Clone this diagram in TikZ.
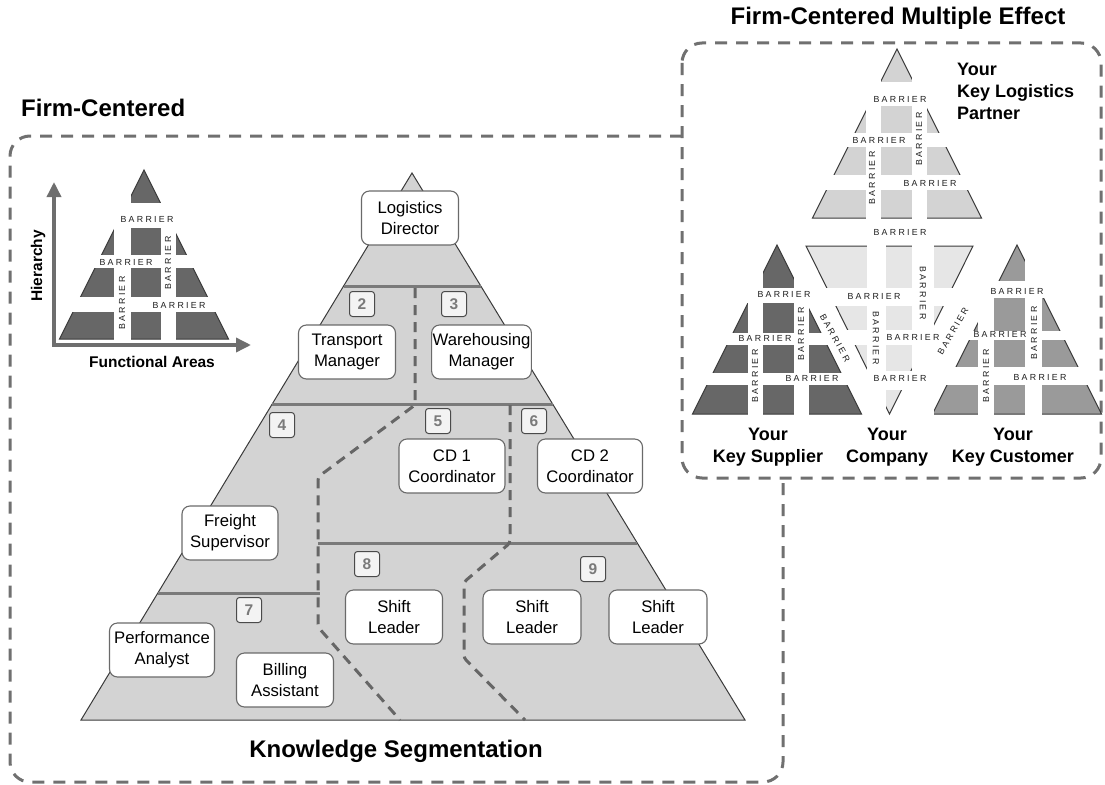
\documentclass[tikz,border=0pt]{standalone}
\usepackage{fontspec}
\setmainfont{Liberation Sans}
\newfontfamily\barfont{Liberation Sans}[LetterSpace=26]
\usetikzlibrary{arrows.meta}
\definecolor{mainfill}{HTML}{D3D3D3}
\definecolor{edgecol}{HTML}{3A3A3A}
\definecolor{boxedge}{HTML}{6A6A6A}
\definecolor{badgeedge}{HTML}{4A4A4A}
\definecolor{badgefill}{HTML}{F3F3F3}
\definecolor{badgetext}{HTML}{7A7A7A}
\definecolor{bartext}{HTML}{1E1E1E}
\definecolor{divcol}{HTML}{7A7A7A}
\definecolor{segcol}{HTML}{666666}
\definecolor{framecol}{HTML}{707070}
\definecolor{axiscol}{HTML}{6E6E6E}
\definecolor{darkpyr}{HTML}{676767}
\definecolor{lightpyr}{HTML}{D3D3D3}
\definecolor{palepyr}{HTML}{E6E6E6}
\definecolor{midpyr}{HTML}{9A9A9A}
\newcommand{\pyrtri}[3]{\filldraw[fill=#3, draw=edgecol, line width=1pt] (#1,#2) -- ({#1-84.5},{#2+169}) -- ({#1+84.5},{#2+169}) -- cycle;}
\newcommand{\hstr}[4]{\fill[white] ({#1-0.5*#4-3},{#2+#3}) rectangle ({#1+0.5*#4+3},{#2+#4});}
\newcommand{\vstr}[4]{\fill[white] ({#1+#3},{#2-2}) rectangle ({#1+#4},{#2+172});}
\begin{document}
\begin{tikzpicture}[x=1pt,y=-1pt,
  role/.style={draw=boxedge, fill=white, rounded corners=8pt, line width=1.1pt, minimum width=97pt, minimum height=54pt, align=center, inner sep=1pt, font=\fontsize{16.7}{20.8}\selectfont},
  badge/.style={draw=badgeedge, fill=badgefill, rounded corners=3pt, line width=1pt, minimum width=25pt, minimum height=25pt, inner sep=0pt, text=badgetext, font=\bfseries\fontsize{15.5}{15.5}\selectfont},
  bar/.style={font=\barfont\fontsize{8.8}{9}\selectfont, inner sep=0pt, text=bartext},
  divider/.style={draw=divcol, line width=3pt},
  seg/.style={draw=segcol, line width=3pt, dash pattern=on 10pt off 7pt, rounded corners=3pt},
  frame/.style={draw=framecol, line width=3pt, dash pattern=on 12pt off 9pt, rounded corners=20pt},
  title/.style={font=\bfseries\fontsize{24}{28}\selectfont, inner sep=0pt},
  label/.style={font=\bfseries\fontsize{18}{22}\selectfont, inner sep=0pt, align=center},
  axis/.style={draw=axiscol, line width=3.5pt, -{Triangle[length=15pt,width=14pt]}},
]
\useasboundingbox (0,0) rectangle (1105,784);
% frames
\draw[frame] (682,43) rectangle (1101,478);
\draw[frame] (682,136) -- (10,136) -- (10,782) -- (783,782) -- (783,478);
% titles
\node[title, anchor=base west] (tFC) at (21,116) {Firm-Centered};
\node[title, anchor=base] (tME) at (898,25) {Firm-Centered Multiple Effect};
\node[title, anchor=base] (tKS) at (396,757) {Knowledge Segmentation};
% main pyramid
\filldraw[fill=mainfill, draw=edgecol, line width=1pt] (412,173) -- (81,720) -- (745,720) -- cycle;
\draw[divider] (343.6,286) -- (480.8,286);
\draw[divider] (272.2,404) -- (552.6,404);
\draw[divider] (318,543) -- (637.2,543);
\draw[divider] (157.8,593) -- (320,593);
\draw[seg] (415,288) -- (415,405) -- (318,477) -- (318,627) -- (400,720);
\draw[seg] (510,405) -- (510,543) -- (464,582) -- (464,658) -- (525,720);
% role boxes
\node[role] (ld) at (410,218) {Logistics\\Director};
\node[role] (tm) at (347,352) {Transport\\Manager};
\node[role] (wm) at (481.5,352) {Warehousing\\Manager};
\node[role, minimum width=106pt] (cd1) at (452,466) {CD 1\\Coordinator};
\node[role, minimum width=105pt] (cd2) at (590,466) {CD 2\\Coordinator};
\node[role, minimum width=96pt] (fs) at (230,533) {Freight\\Supervisor};
\node[role, minimum width=105pt] (pa) at (162,650) {Performance\\Analyst};
\node[role] (ba) at (285,680) {Billing\\Assistant};
\node[role] (sl1) at (394,617) {Shift\\Leader};
\node[role, minimum width=98pt] (sl2) at (532,617) {Shift\\Leader};
\node[role, minimum width=98pt] (sl3) at (658,617) {Shift\\Leader};
% badges
\node[badge] (n2) at (362,304) {2};
\node[badge] (n3) at (454,304) {3};
\node[badge] (n4) at (282,425) {4};
\node[badge] (n5) at (438,421) {5};
\node[badge] (n6) at (534,421) {6};
\node[badge] (n7) at (249,610) {7};
\node[badge] (n8) at (367,564) {8};
\node[badge] (n9) at (593,569) {9};
% small legend pyramid
\pyrtri{144}{170}{darkpyr}
\hstr{144}{170}{33}{58}
\hstr{144}{170}{85}{98}
\hstr{144}{170}{127}{142}
\vstr{144}{170}{-30}{-13}
\vstr{144}{170}{17}{32}
\coordinate (org) at (54,345);
\coordinate (ytip) at (54,182);
\coordinate (xtip) at (251,345);
\draw[axis] (54,346.75) -- (ytip);
\draw[axis] (52.25,345) -- (xtip);
\node[font=\bfseries\fontsize{15.5}{18}\selectfont, rotate=90, inner sep=0pt] (hier) at (38,266) {Hierarchy};
\node[font=\bfseries\fontsize{15.5}{18}\selectfont, anchor=base, inner sep=0pt] (func) at (152,367) {Functional Areas};
\node[bar] (a1) at (147,219) {BARRIER};
\node[bar] (a2) at (126,262) {BARRIER};
\node[bar] (a3) at (179,305) {BARRIER};
\node[bar, rotate=90] (a4) at (122,303) {BARRIER};
\node[bar, rotate=90] (a5) at (168,263) {BARRIER};
% partner pyramid
\pyrtri{897}{49}{lightpyr}
\hstr{897}{49}{33}{57}
\hstr{897}{49}{84}{98}
\hstr{897}{49}{126}{141}
\vstr{897}{49}{-31}{-16}
\vstr{897}{49}{15}{30}
% supplier pyramid
\pyrtri{777}{245}{darkpyr}
\hstr{777}{245}{43}{58}
\hstr{777}{245}{88}{100}
\hstr{777}{245}{128}{140}
\vstr{777}{245}{-29}{-14}
\vstr{777}{245}{17}{32}
% customer pyramid
\pyrtri{1017}{245}{midpyr}
\hstr{1017}{245}{36}{53}
\hstr{1017}{245}{86}{95}
\hstr{1017}{245}{122}{140}
\vstr{1017}{245}{-39}{-23}
\vstr{1017}{245}{8}{25}
% company (inverted) pyramid
\filldraw[fill=palepyr, draw=edgecol, line width=1pt] (806,246) -- (973,246) -- (889.5,414) -- cycle;
\fill[white] (824,288) rectangle (955,306);
\fill[white] (845,330) rectangle (934,345);
\fill[white] (865,371) rectangle (914,390);
\fill[white] (867,244) rectangle (886,416);
\fill[white] (912,244) rectangle (934,416);
% barrier labels right panel
\node[bar] (p1) at (900,99) {BARRIER};
\node[bar] (p2) at (879,140) {BARRIER};
\node[bar] (p3) at (930,183) {BARRIER};
\node[bar, rotate=90] (p4) at (872,178) {BARRIER};
\node[bar, rotate=90] (p5) at (919,139) {BARRIER};
\node[bar] (p6) at (900,232) {BARRIER};
\node[bar] (s1) at (784,294) {BARRIER};
\node[bar] (s2) at (765,338) {BARRIER};
\node[bar] (s3) at (812,378) {BARRIER};
\node[bar, rotate=90] (s4) at (755,376) {BARRIER};
\node[bar, rotate=90] (s5) at (801,334) {BARRIER};
\node[bar, rotate=-61] (s6) at (835,338) {BARRIER};
\node[bar] (c1) at (874,296) {BARRIER};
\node[bar] (c2) at (913,337) {BARRIER};
\node[bar] (c3) at (900,378) {BARRIER};
\node[bar, rotate=-90] (c4) at (876,338) {BARRIER};
\node[bar, rotate=-90] (c5) at (923,293) {BARRIER};
\node[bar] (k1) at (1017,291) {BARRIER};
\node[bar] (k2) at (1000,334) {BARRIER};
\node[bar] (k3) at (1040,377) {BARRIER};
\node[bar, rotate=90] (k4) at (986,376) {BARRIER};
\node[bar, rotate=90] (k5) at (1034,333) {BARRIER};
\node[bar, rotate=60] (k6) at (953,331) {BARRIER};
% panel labels
\node[label, align=left, anchor=north west] (lp) at (957,63) {Your\\Key Logistics\\Partner};
\node[label, anchor=north] (lsup) at (768,428) {Your\\Key Supplier};
\node[label, anchor=north] (lcom) at (887,428) {Your\\Company};
\node[label, anchor=north] (lcus) at (1013,428) {Your\\Key Customer};
\end{tikzpicture}
\end{document}
